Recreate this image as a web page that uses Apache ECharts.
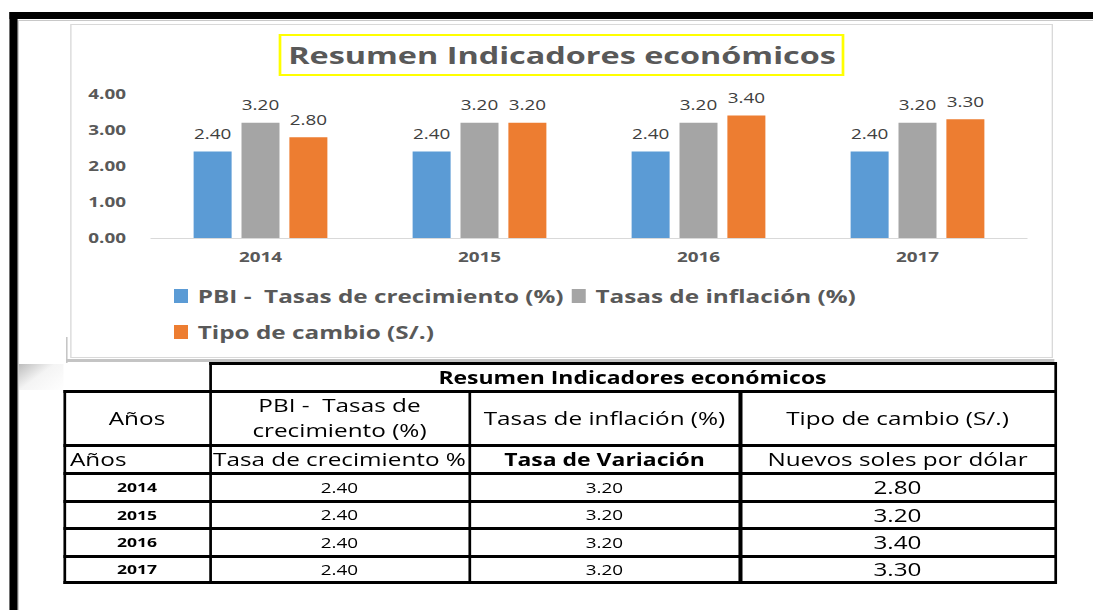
<!DOCTYPE html>
<html>
<head>
<meta charset="utf-8">
<script src="https://cdn.jsdelivr.net/npm/echarts@6/dist/echarts.min.js"></script>
<style>
  html, body { margin: 0; padding: 0; background: #fff; overflow: hidden; }
  #page { position: absolute; left: 0; top: 0; height: 610px; transform-origin: 0 0; font-family: "Open Sans", sans-serif; }
  .abs { position: absolute; box-sizing: border-box; }
  .cell { position: absolute; display: flex; align-items: center; justify-content: center; color: #000; white-space: pre; text-align: center; }
</style>
</head>
<body>
<div id="page"></div>
<script>
// datos
const years = ['2014', '2015', '2016', '2017']
const pbi = [2.4, 2.4, 2.4, 2.4]
const inflacion = [3.2, 3.2, 3.2, 3.2]
const tipoCambio = [2.8, 3.2, 3.4, 3.3]
const seriesNames = ['PBI -  Tasas de crecimiento (%)', 'Tasas de inflación (%)', 'Tipo de cambio (S/.)']
const titulo = 'Resumen Indicadores económicos'
const headerRow = ['Años', 'PBI -  Tasas de\ncrecimiento (%)', 'Tasas de inflación (%)', 'Tipo de cambio (S/.)']
const subHeaderRow = ['Años', 'Tasa de crecimiento %', 'Tasa de Variación', 'Nuevos soles por dólar']
const yMin = 0
const yMax = 4
const yInterval = 1

// the reference is a horizontally stretched screenshot, so the page is drawn narrow and stretched
const S = 1.35
const W = 1093
const X = (v) => v / S

const page = document.getElementById('page')
page.style.width = X(W) + 'px'
page.style.transform = 'scaleX(' + S + ')'

const box = (x, y, w, h, css) => {
  const d = document.createElement('div')
  d.className = 'abs'
  d.style.left = X(x) + 'px'
  d.style.top = y + 'px'
  d.style.width = X(w) + 'px'
  d.style.height = h + 'px'
  Object.assign(d.style, css || {})
  page.appendChild(d)
  return d
}

// marco de la hoja
box(17, 20, W - 17, 1, { background: '#c8c8c8' })
box(17, 20, 1, 590, { background: '#c8c8c8' })
box(9, 12, W - 9, 7, { background: '#000' })
box(9, 12, 8, 598, { background: '#000' })
box(19, 364, 45, 26, { background: 'linear-gradient(135deg, #bdbdbd 0%, #f4f4f4 45%, #ffffff 100%)' })

// panel del grafico
box(66, 337, 2, 26, { background: '#bdbdbd' })
box(66, 359, 989, 3, { background: '#c4c4c4' })
box(70, 24, 983, 334, { border: '1px solid #d9d9d9', borderLeftWidth: X(1) + 'px', borderRightWidth: X(1) + 'px', background: '#fff' })

const chartDiv = box(0, 0, W, 610, {})
const chart = echarts.init(chartDiv, null, { renderer: 'svg' })

const labelFmt = (p) => p.value.toFixed(2)
const barColors = ['#5b9bd5', '#a5a5a5', '#ed7d31']
const seriesData = [pbi, inflacion, tipoCambio]

const legendBase = {
  left: X(174),
  padding: 0,
  icon: 'rect',
  itemWidth: X(14),
  itemHeight: 14,
  itemGap: X(8),
  textStyle: { fontSize: 18, fontWeight: 'bold', color: '#595959', lineHeight: 22, padding: [0, 0, 0, X(3)] },
}

const option = {
  animation: false,
  textStyle: { fontFamily: 'Open Sans' },
  graphic: [
    {
      type: 'rect',
      shape: { x: X(280), y: 35, width: X(563), height: 40 },
      style: { fill: '#fff', stroke: '#ffff00', lineWidth: 2 },
    },
    {
      type: 'text',
      x: X(562),
      y: 55,
      style: {
        text: titulo,
        fontSize: 24,
        fontWeight: 'bold',
        fontFamily: 'Open Sans',
        fill: '#595959',
        align: 'center',
        verticalAlign: 'middle',
      },
    },
  ],
  legend: [
    Object.assign({ data: seriesNames.slice(0, 2), top: 285 }, legendBase),
    Object.assign({ data: seriesNames.slice(2), top: 321 }, legendBase),
  ],
  grid: { left: X(151), width: X(876), top: 94, height: 144 },
  xAxis: {
    type: 'category',
    data: years,
    axisLine: { lineStyle: { color: '#d9d9d9', width: 1 } },
    axisTick: { show: false },
    axisLabel: { fontSize: 14, fontWeight: 'bold', color: '#595959', margin: 12 },
  },
  yAxis: {
    type: 'value',
    min: yMin,
    max: yMax,
    interval: yInterval,
    axisLine: { show: false },
    axisTick: { show: false },
    splitLine: { show: false },
    axisLabel: {
      fontSize: 14,
      fontWeight: 'bold',
      color: '#595959',
      margin: X(25),
      formatter: (v) => v.toFixed(2),
    },
  },
  series: seriesNames.map((name, i) => ({
    name,
    type: 'bar',
    data: seriesData[i],
    barWidth: X(38),
    barGap: '26%',
    itemStyle: { color: barColors[i] },
    label: {
      show: true,
      position: 'top',
      distance: 11,
      fontSize: 14,
      color: '#404040',
      formatter: labelFmt,
    },
  })),
}

chart.setOption(option)

// tabla resumen
const colX = [64, 210, 469, 740, 1055]
const rowY = [363, 391, 445, 473, 501, 528, 556, 582]

const cell = (c0, c1, r, text, css) => {
  const d = box(colX[c0], rowY[r], colX[c1] - colX[c0], rowY[r + 1] - rowY[r], {})
  d.className = 'cell'
  d.textContent = text
  Object.assign(d.style, css || {})
  return d
}

cell(1, 4, 0, titulo, { fontSize: '17px', fontWeight: 'bold' })
headerRow.forEach((t, i) => cell(i, i + 1, 1, t, { fontSize: '18px', lineHeight: '25px' }))
subHeaderRow.forEach((t, i) => {
  const css = { fontSize: '18px' }
  if (i === 0) { css.justifyContent = 'flex-start'; css.paddingLeft = X(6) + 'px' }
  if (i === 2) { css.fontWeight = 'bold'; css.fontSize = '17px' }
  cell(i, i + 1, 2, t, css)
})
years.forEach((y, r) => {
  cell(0, 1, r + 3, y, { fontSize: '13px', fontWeight: 'bold' })
  cell(1, 2, r + 3, pbi[r].toFixed(2), { fontSize: '14px' })
  cell(2, 3, r + 3, inflacion[r].toFixed(2), { fontSize: '14px' })
  cell(3, 4, r + 3, tipoCambio[r].toFixed(2), { fontSize: '18px' })
})

// bordes de la tabla
const T = 3
const hLine = (x0, x1, y) => box(x0 - 1, y - 1, x1 - x0 + 3, T, { background: '#000' })
const vLine = (x, y0, y1) => box(x - 1, y0 - 1, T, y1 - y0 + 3, { background: '#000' })
hLine(colX[1], colX[4], rowY[0])
rowY.slice(1).forEach((y) => hLine(colX[0], colX[4], y))
vLine(colX[0], rowY[1], rowY[7])
vLine(colX[1], rowY[0], rowY[7])
vLine(colX[2], rowY[1], rowY[7])
vLine(colX[3], rowY[1], rowY[7])
vLine(colX[4], rowY[0], rowY[7])
</script>
</body>
</html>
